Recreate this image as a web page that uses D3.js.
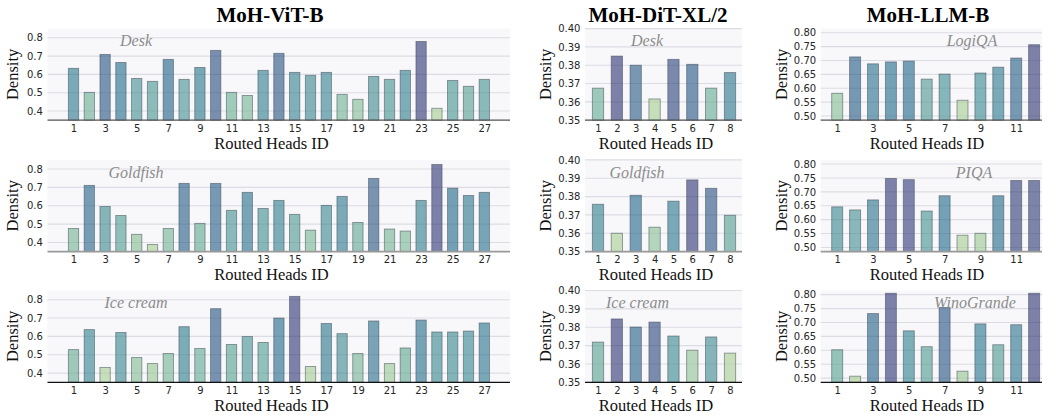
<html>
<head>
<meta charset="utf-8">
<script src="https://d3js.org/d3.v7.min.js"></script>
<style>
  body { margin: 0; background: #fff; }
  .tick text { font-family: "DejaVu Sans", sans-serif; font-size: 10px; fill: #262626; }
  .title { font-family: "Liberation Serif", serif; font-weight: bold; font-size: 21px; fill: #000; }
  .axlabel { font-family: "Liberation Serif", serif; font-size: 16.5px; fill: #111; }
  .tag { font-family: "Liberation Serif", serif; font-style: italic; font-size: 16px; fill: #8c8c8c; }
</style>
</head>
<body>
<div id="chart"></div>
<script>
  // ---- data ----
  var vitHeads = [1, 2, 3, 4, 5, 6, 7, 8, 9, 10, 11, 12, 13, 14, 15, 16, 17, 18, 19, 20, 21, 22, 23, 24, 25, 26, 27];
  var ditHeads = [1, 2, 3, 4, 5, 6, 7, 8];
  var llmHeads = [1, 2, 3, 4, 5, 6, 7, 8, 9, 10, 11, 12];

  var vitDesk = [0.633, 0.502, 0.709, 0.665, 0.578, 0.562, 0.682, 0.573, 0.638, 0.731, 0.502, 0.485, 0.622, 0.715,
    0.611, 0.595, 0.611, 0.491, 0.464, 0.589, 0.573, 0.622, 0.780, 0.415, 0.567, 0.535, 0.573];
  var vitGoldfish = [0.476, 0.711, 0.596, 0.547, 0.444, 0.389, 0.476, 0.722, 0.504, 0.722, 0.575, 0.673, 0.585, 0.629,
    0.553, 0.467, 0.602, 0.651, 0.509, 0.749, 0.473, 0.462, 0.629, 0.825, 0.696, 0.656, 0.673];
  var vitIceCream = [0.528, 0.637, 0.431, 0.621, 0.485, 0.452, 0.507, 0.653, 0.534, 0.751, 0.556, 0.599, 0.567, 0.700,
    0.818, 0.436, 0.670, 0.615, 0.507, 0.684, 0.452, 0.537, 0.689, 0.624, 0.624, 0.629, 0.673];

  var ditDesk = [0.3675, 0.3850, 0.3800, 0.3616, 0.3832, 0.3805, 0.3675, 0.3760];
  var ditGoldfish = [0.3758, 0.3600, 0.3807, 0.3633, 0.3775, 0.3891, 0.3845, 0.3698];
  var ditIceCream = [0.3719, 0.3845, 0.3801, 0.3828, 0.3752, 0.3675, 0.3747, 0.3659];

  var llmLogiQA = [0.582, 0.713, 0.688, 0.695, 0.698, 0.633, 0.651, 0.557, 0.655, 0.676, 0.709, 0.757];
  var llmPIQA = [0.646, 0.635, 0.671, 0.748, 0.744, 0.631, 0.686, 0.544, 0.551, 0.686, 0.741, 0.741];
  var llmWinoGrande = [0.602, 0.507, 0.732, 0.805, 0.670, 0.613, 0.754, 0.525, 0.695, 0.620, 0.692, 0.805];

  var vitTicks = [0.4, 0.5, 0.6, 0.7, 0.8];
  var ditTicks = [0.35, 0.36, 0.37, 0.38, 0.39, 0.40];
  var llmTicks = [0.50, 0.55, 0.60, 0.65, 0.70, 0.75, 0.80];
  var vitXTicks = [1, 3, 5, 7, 9, 11, 13, 15, 17, 19, 21, 23, 25, 27];
  var ditXTicks = [1, 2, 3, 4, 5, 6, 7, 8];
  var llmXTicks = [1, 3, 5, 7, 9, 11];

  var titles = ["MoH-ViT-B", "MoH-DiT-XL/2", "MoH-LLM-B"];
  var vitTags = ["Desk", "Goldfish", "Ice cream"];
  var ditTags = ["Desk", "Goldfish", "Ice cream"];
  var llmTags = ["LogiQA", "PIQA", "WinoGrande"];

  // ---- layout ----
  var W = 1042, H = 415;
  var rows = [
    { top: 28.6, bottom: 120.2, spine: "#555", sw: 1.2 },
    { top: 159.9, bottom: 251.6, spine: "#9a9a9a", sw: 1.6 },
    { top: 290.5, bottom: 382.3, spine: "#111", sw: 1.2 }
  ];

  var cols = [
    { heads: vitHeads, series: [vitDesk, vitGoldfish, vitIceCream], tags: vitTags, ticks: vitTicks, xticks: vitXTicks,
      fmt: d3.format(".1f"), ydom: [0.35, 0.85], left: 47.5, right: 510, first: 73.5, step: 15.8, barW: 10.3,
      titleX: 270, ylabX: 18, xlabX: 271.5, tagX: [136, 136, 136] },
    { heads: ditHeads, series: [ditDesk, ditGoldfish, ditIceCream], tags: ditTags, ticks: ditTicks, xticks: ditXTicks,
      fmt: d3.format(".2f"), ydom: [0.35, 0.40], left: 585, right: 742, first: 598, step: 18.86, barW: 11.3,
      titleX: 658, ylabX: 551, xlabX: 656, tagX: [647, 637, 637.5] },
    { heads: llmHeads, series: [llmLogiQA, llmPIQA, llmWinoGrande], tags: llmTags, ticks: llmTicks, xticks: llmXTicks,
      fmt: d3.format(".2f"), ydom: [0.485, 0.815], left: 820.7, right: 1045, first: 837.2, step: 17.9, barW: 11,
      titleX: 928, ylabX: 786.5, xlabX: 927, tagX: [972, 974, 975] }
  ];

  // seaborn "crest"-like ramp
  var crest = d3.scaleLinear()
    .domain([0, 1 / 7, 2 / 7, 3 / 7, 4 / 7, 5 / 7, 6 / 7, 1])
    .range(["#a5cd90", "#7dba91", "#59a590", "#40908e", "#287a8c", "#1c6488", "#254b7f", "#2c3172"])
    .interpolate(d3.interpolateRgb);

  var svg = d3.select("#chart").append("svg")
    .attr("width", W).attr("height", H)
    .style("display", "block");

  cols.forEach(function (c, ci) {
    svg.append("text").attr("class", "title")
      .attr("x", c.titleX).attr("y", 22)
      .attr("text-anchor", "middle")
      .text(titles[ci]);

    rows.forEach(function (r, ri) {
      var values = c.series[ri];
      var g = svg.append("g");

      var x = d3.scaleLinear()
        .domain([c.heads[0], c.heads[c.heads.length - 1]])
        .range([c.first, c.first + (c.heads.length - 1) * c.step]);
      var y = d3.scaleLinear().domain(c.ydom).range([r.bottom, r.top]);

      var ext = d3.extent(values);
      var norm = d3.scaleLinear().domain(ext).range([0, 1]);

      // plot background
      g.append("rect")
        .attr("x", c.left).attr("y", r.top)
        .attr("width", c.right - c.left).attr("height", r.bottom - r.top)
        .attr("fill", "#f8f8fb");

      // gridlines
      g.selectAll(".grid")
        .data(c.ticks)
        .enter()
        .append("line")
        .attr("x1", c.left).attr("x2", c.right)
        .attr("y1", function (d) { return y(d); })
        .attr("y2", function (d) { return y(d); })
        .attr("stroke", "#dcdce4")
        .attr("stroke-width", 1.1);

      // bars
      g.selectAll(".bar")
        .data(values)
        .enter()
        .append("rect")
        .attr("class", "bar")
        .attr("x", function (d, i) { return x(c.heads[i]) - c.barW / 2; })
        .attr("width", c.barW)
        .attr("y", function (d) { return y(d); })
        .attr("height", function (d) { return r.bottom - y(d); })
        .attr("fill", function (d) { return crest(norm(d)); })
        .attr("fill-opacity", 0.6)
        .attr("stroke", "#3c4650")
        .attr("stroke-opacity", 0.55)
        .attr("stroke-width", 0.9);

      // bottom spine
      g.append("line")
        .attr("x1", c.left).attr("x2", c.right)
        .attr("y1", r.bottom).attr("y2", r.bottom)
        .attr("stroke", r.spine)
        .attr("stroke-width", r.sw);

      // axes
      var xa = g.append("g")
        .attr("transform", "translate(0," + r.bottom + ")")
        .call(d3.axisBottom(x).tickValues(c.xticks).tickSize(0).tickPadding(4.5).tickFormat(d3.format("d")));
      xa.select(".domain").remove();

      var ya = g.append("g")
        .attr("transform", "translate(" + c.left + ",0)")
        .call(d3.axisLeft(y).tickValues(c.ticks).tickSize(0).tickPadding(4.6).tickFormat(c.fmt));
      ya.select(".domain").remove();

      // labels
      g.append("text").attr("class", "axlabel")
        .attr("text-anchor", "middle")
        .attr("transform", "translate(" + c.ylabX + "," + ((r.top + r.bottom) / 2) + ") rotate(-90)")
        .text("Density");

      g.append("text").attr("class", "axlabel")
        .attr("text-anchor", "middle")
        .attr("x", c.xlabX).attr("y", r.bottom + 28.5)
        .text("Routed Heads ID");

      g.append("text").attr("class", "tag")
        .attr("text-anchor", "middle")
        .attr("x", c.tagX[ri]).attr("y", r.top + 17.7)
        .text(c.tags[ri]);
    });
  });
</script>
</body>
</html>
